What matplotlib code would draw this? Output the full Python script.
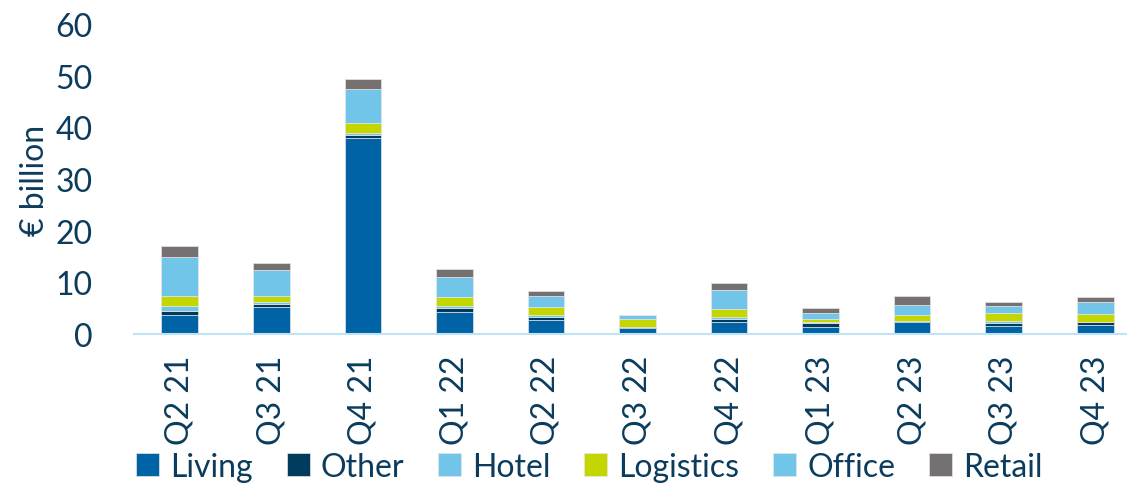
import matplotlib.pyplot as plt
import numpy as np

plt.rcParams['font.family'] = ['Lato', 'DejaVu Sans']

quarters = ["Q2 21", "Q3 21", "Q4 21", "Q1 22", "Q2 22", "Q3 22",
            "Q4 22", "Q1 23", "Q2 23", "Q3 23", "Q4 23"]

living    = [3.7, 5.2, 37.9, 4.2, 2.8, 1.2, 2.3, 1.3, 2.4, 1.6, 1.7]
other     = [0.8, 0.7, 0.6, 0.9, 0.5, 0.15, 0.6, 0.8, 0.2, 0.5, 0.6]
hotel     = [1.0, 0.3, 0.4, 0.3, 0.3, 0.1, 0.3, 0.2, 0.0, 0.5, 0.1]
logistics = [1.9, 1.2, 2.0, 1.8, 1.6, 1.45, 1.7, 0.7, 1.1, 1.5, 1.5]
office    = [7.6, 5.0, 6.6, 3.8, 2.2, 0.8, 3.7, 1.0, 2.0, 1.4, 2.3]
retail    = [2.0, 1.3, 1.8, 1.6, 1.0, 0.0, 1.2, 1.0, 1.6, 0.7, 1.0]

series = [("Living", living, "#0063A6"),
          ("Other", other, "#003A5D"),
          ("Hotel", hotel, "#71C5E8"),
          ("Logistics", logistics, "#C4D600"),
          ("Office", office, "#71C5E8"),
          ("Retail", retail, "#767171")]

txt = "#0B3C5D"
fsize = 23

fig = plt.figure(figsize=(11.27, 4.85), dpi=100)
ax = fig.add_axes([134 / 1127, 150 / 485, 1007 / 1127, 310 / 485])

x = np.arange(len(quarters))
bottom = np.zeros(len(quarters))
for name, vals, col in series:
    vals = np.array(vals)
    ax.bar(x, vals, width=0.4, bottom=bottom, color=col, label=name,
           edgecolor="#E6E6E6", linewidth=0.5)
    bottom += vals

ax.set_xlim(-0.5, len(quarters) - 0.5)
ax.set_ylim(0, 60)
ax.set_yticks(range(0, 61, 10))
ax.set_xticks(x)
ax.set_xticklabels(quarters, rotation=90, fontsize=fsize, color=txt)
ax.tick_params(axis='y', labelsize=fsize, labelcolor=txt, length=0, pad=30)
ax.tick_params(axis='x', length=0, pad=15)
for s in ["top", "right", "left"]:
    ax.spines[s].set_visible(False)
ax.spines["bottom"].set_color("#BDE3F5")
ax.spines["bottom"].set_linewidth(1.5)
ax.set_ylabel("€ billion", fontsize=fsize, color=txt, labelpad=4)

fig.legend(loc="center left", bbox_to_anchor=(0.121, 0.035), ncol=6,
           frameon=False, fontsize=fsize, handlelength=0.72, handleheight=0.72,
           handletextpad=0.35, columnspacing=1.05, labelcolor=txt,
           borderpad=0, borderaxespad=0)

fig.savefig("out.png", dpi=100)
